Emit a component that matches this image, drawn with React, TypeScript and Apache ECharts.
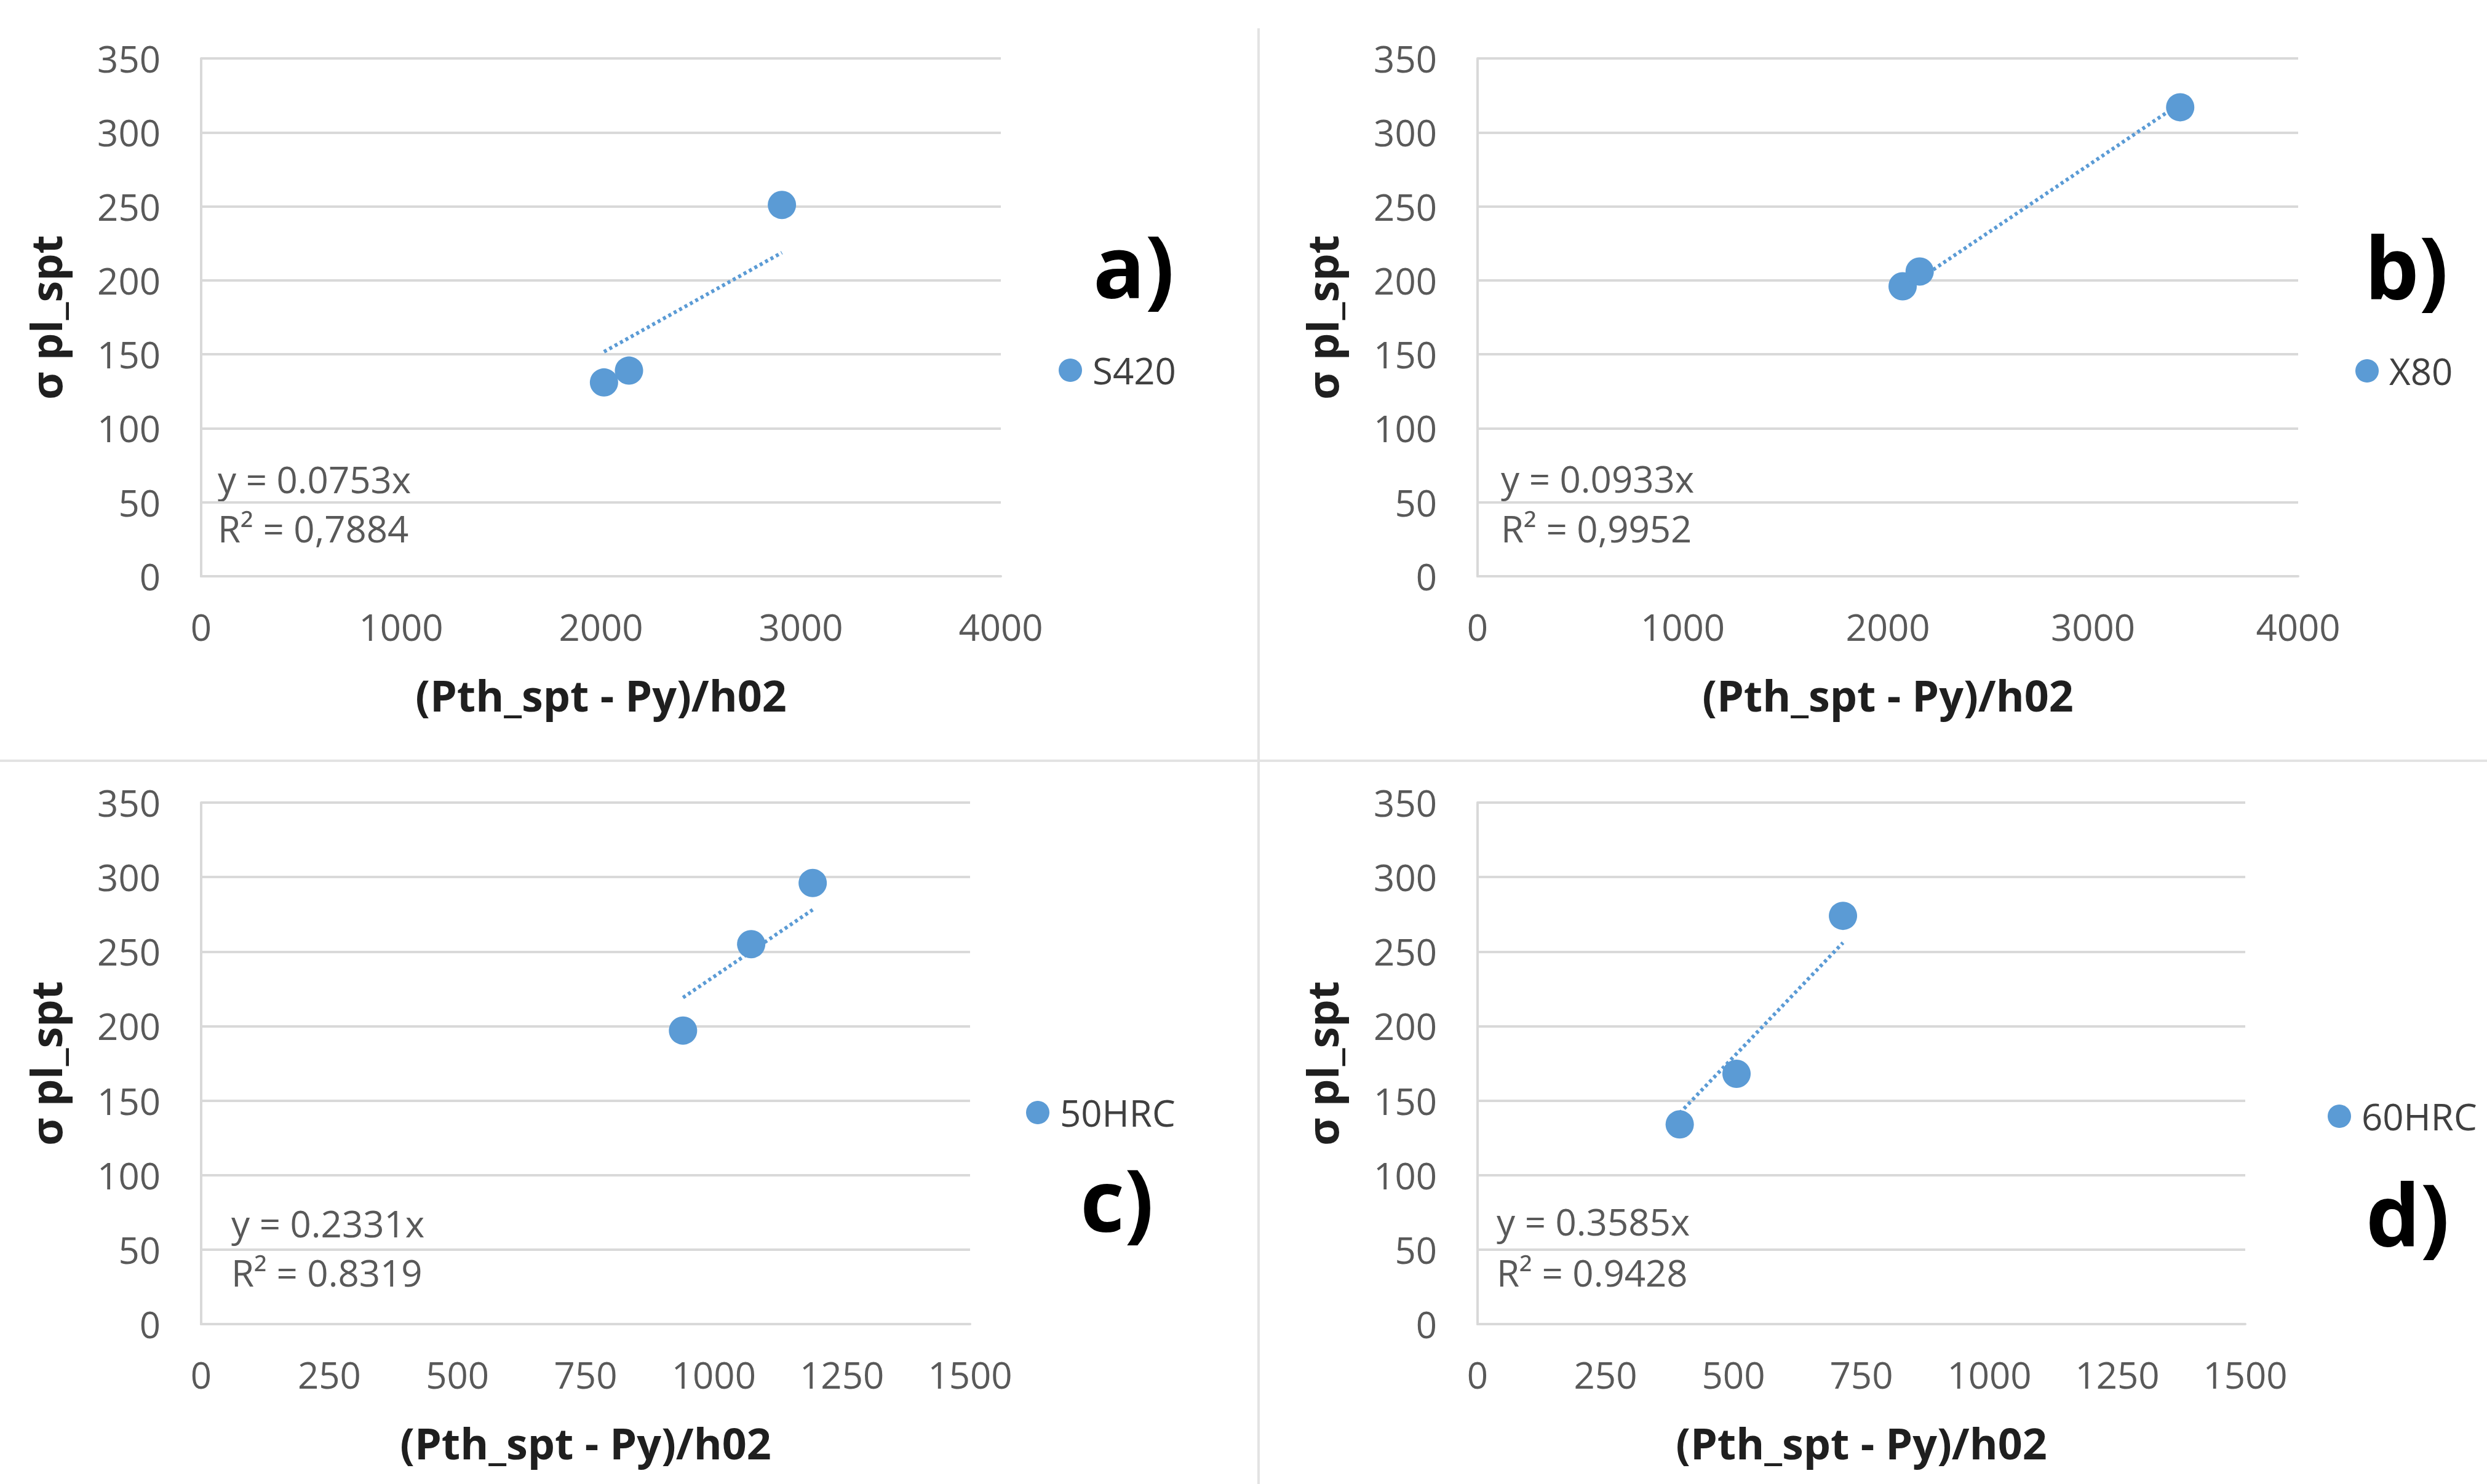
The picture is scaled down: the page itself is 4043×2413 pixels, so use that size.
import React, { useEffect, useRef } from "react";
import * as echarts from "echarts";

// ---- data ----
const seriesNames = ["S420", "X80", "50HRC", "60HRC"];
const panelLetters = ["a)", "b)", "c)", "d)"];

const xS420 = [2015, 2140, 2905];
const yS420 = [131, 139, 251];
const xX80 = [2072, 2155, 3425];
const yX80 = [196, 206, 317];
const x50HRC = [940, 1073, 1193];
const y50HRC = [197, 255, 296];
const x60HRC = [395, 506, 714];
const y60HRC = [134, 168, 274];

const trendSlopes = [0.0753, 0.0933, 0.2331, 0.3585];
const slopeLabels = ["y = 0.0753x", "y = 0.0933x", "y = 0.2331x", "y = 0.3585x"];
const r2Labels = ["R² = 0,7884", "R² = 0,9952", "R² = 0.8319", "R² = 0.9428"];

const xMaxes = [4000, 4000, 1500, 1500];
const xIntervals = [1000, 1000, 250, 250];
const yMax = 350;
const yInterval = 50;

const xTitle = "(Pth_spt - Py)/h02";
const yTitle = "σ pl_spt";

// ---- layout (pixels) ----
const grids = [
  { left: 327, top: 95, width: 1300, height: 842 },
  { left: 2402, top: 95, width: 1334, height: 842 },
  { left: 327, top: 1305, width: 1250, height: 848 },
  { left: 2402, top: 1305, width: 1248, height: 848 },
];
const legendPos = [
  { left: 1721, top: 572 },
  { left: 3829, top: 573 },
  { left: 1668, top: 1779 },
  { left: 3784, top: 1785 },
];
const letterPos = [
  { x: 1777, y: 430 },
  { x: 3844, y: 432 },
  { x: 1756, y: 1948 },
  { x: 3846, y: 1972 },
];
const eqPos = [
  { x: 354, y1: 779, y2: 859 },
  { x: 2440, y1: 778, y2: 859 },
  { x: 376, y1: 1989, y2: 2069 },
  { x: 2433, y1: 1986, y2: 2069 },
];

const FONT = "Open Sans";
const BLUE = "#5B9BD5";
const GRID_C = "#d9d9d9";
const LABEL_C = "#595959";
const TITLE_C = "#1f1f1f";

export default function App() {
  const ref = useRef<HTMLDivElement>(null);

  useEffect(() => {
    if (!ref.current) return;
    const chart = echarts.init(ref.current, undefined, { renderer: "svg" });

    const xs = [xS420, xX80, x50HRC, x60HRC];
    const ys = [yS420, yX80, y50HRC, y60HRC];

    const series: any[] = [];
    xs.forEach((xArr, i) => {
      const pts = xArr.map((x, j) => [x, ys[i][j]]);
      const xmin = Math.min(...xArr);
      const xmax = Math.max(...xArr);
      series.push({
        name: "trend" + i,
        type: "line",
        xAxisIndex: i,
        yAxisIndex: i,
        data: [
          [xmin, trendSlopes[i] * xmin],
          [xmax, trendSlopes[i] * xmax],
        ],
        showSymbol: false,
        symbol: "none",
        lineStyle: { color: BLUE, width: 6, type: [5, 5] },
        z: 2,
        silent: true,
      });
      series.push({
        name: seriesNames[i],
        type: "scatter",
        xAxisIndex: i,
        yAxisIndex: i,
        data: pts,
        symbol: "circle",
        symbolSize: 46,
        itemStyle: { color: BLUE, opacity: 1 },
        z: 3,
      });
    });

    const graphic: any[] = [
      {
        type: "line",
        shape: { x1: 2046, y1: 46, x2: 2046, y2: 2413 },
        style: { stroke: "#e3e3e3", lineWidth: 4 },
      },
      {
        type: "line",
        shape: { x1: 0, y1: 1237, x2: 4043, y2: 1237 },
        style: { stroke: "#e3e3e3", lineWidth: 4 },
      },
    ];
    panelLetters.forEach((t, i) => {
      graphic.push({
        type: "text",
        x: letterPos[i].x,
        y: letterPos[i].y,
        style: {
          text: t,
          font: `bold 140px "${FONT}"`,
          lineHeight: 150,
          fill: "#000",
          textAlign: "left",
          textVerticalAlign: "middle",
        },
      });
      graphic.push({
        type: "text",
        x: eqPos[i].x,
        y: eqPos[i].y1,
        style: {
          text: slopeLabels[i],
          font: `60px "${FONT}"`,
          fill: LABEL_C,
          textAlign: "left",
          textVerticalAlign: "middle",
        },
      });
      graphic.push({
        type: "text",
        x: eqPos[i].x,
        y: eqPos[i].y2,
        style: {
          text: r2Labels[i],
          font: `60px "${FONT}"`,
          fill: LABEL_C,
          textAlign: "left",
          textVerticalAlign: "middle",
        },
      });
    });

    chart.setOption({
      animation: false,
      backgroundColor: "#fff",
      textStyle: { fontFamily: FONT },
      grid: grids.map((g) => ({ ...g, containLabel: false })),
      xAxis: grids.map((_, i) => ({
        type: "value",
        gridIndex: i,
        min: 0,
        max: xMaxes[i],
        interval: xIntervals[i],
        axisLine: { show: true, lineStyle: { color: GRID_C, width: 4 } },
        axisTick: { show: false },
        splitLine: { show: false },
        axisLabel: {
          color: LABEL_C,
          fontSize: 60,
          fontFamily: FONT,
          margin: 52,
          formatter: (v: number) => String(v),
        },
        name: xTitle,
        nameLocation: "middle",
        nameGap: 158,
        nameTextStyle: { color: TITLE_C, fontSize: 70, fontWeight: "bold", fontFamily: FONT },
      })),
      yAxis: grids.map((_, i) => ({
        type: "value",
        gridIndex: i,
        min: 0,
        max: yMax,
        interval: yInterval,
        axisLine: { show: true, lineStyle: { color: GRID_C, width: 4 } },
        axisTick: { show: false },
        splitLine: { show: true, lineStyle: { color: GRID_C, width: 4 } },
        axisLabel: {
          color: LABEL_C,
          fontSize: 60,
          fontFamily: FONT,
          margin: 66,
          formatter: (v: number) => String(v),
        },
        name: yTitle,
        nameLocation: "middle",
        nameGap: 218,
        nameTextStyle: { color: TITLE_C, fontSize: 70, fontWeight: "bold", fontFamily: FONT },
      })),
      legend: seriesNames.map((n, i) => ({
        data: [n],
        left: legendPos[i].left,
        top: legendPos[i].top,
        padding: 0,
        orient: "vertical",
        icon: "circle",
        itemWidth: 38,
        itemHeight: 38,
        selectedMode: false,
        textStyle: {
          color: "#404040",
          fontSize: 60,
          fontFamily: FONT,
          lineHeight: 60,
          padding: [0, 0, 0, 12],
        },
      })),
      series,
      graphic,
    });

    return () => chart.dispose();
  }, []);

  return (
    <div
      ref={ref}
      style={{ position: "fixed", left: 0, top: 0, width: 4043, height: 2413, background: "#fff" }}
    />
  );
}
